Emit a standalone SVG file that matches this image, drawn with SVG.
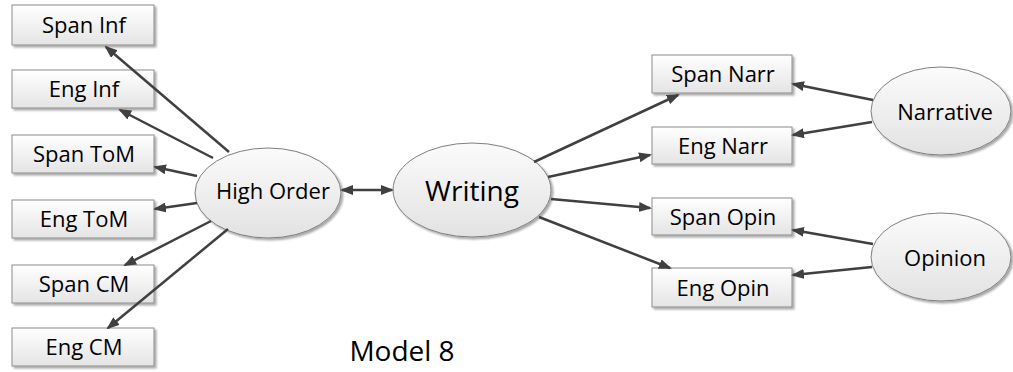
<svg xmlns="http://www.w3.org/2000/svg" width="1013" height="372" viewBox="0 0 1013 372">
  <style>
    .box { fill: url(#boxFill); stroke: #8c8c8c; stroke-width: 1; filter: url(#shadow); }
    .oval { fill: url(#ovalFill); stroke: #7f7f7f; stroke-width: 1; filter: url(#shadow); }
    .lbl { font-family: "Open Sans", Lato, "Liberation Sans", sans-serif; font-size: 22px; fill: #000; text-anchor: middle; dominant-baseline: central; }
    .big { font-size: 28px; }
    .edge { stroke: #404040; stroke-width: 2.5; fill: none; marker-end: url(#arrow); }
  </style>
  <defs>
    <linearGradient id="boxFill" x1="0" y1="0" x2="0" y2="1">
      <stop offset="0" stop-color="#ffffff"/>
      <stop offset="1" stop-color="#e4e4e4"/>
    </linearGradient>
    <linearGradient id="ovalFill" x1="0" y1="0" x2="0" y2="1">
      <stop offset="0" stop-color="#fbfbfb"/>
      <stop offset="1" stop-color="#e2e2e2"/>
    </linearGradient>
    <filter id="shadow" x="-10%" y="-10%" width="130%" height="140%">
      <feGaussianBlur in="SourceAlpha" stdDeviation="1"/>
      <feOffset dx="2" dy="2" result="off"/>
      <feComponentTransfer><feFuncA type="linear" slope="0.35"/></feComponentTransfer>
      <feMerge><feMergeNode/><feMergeNode in="SourceGraphic"/></feMerge>
    </filter>
    <marker id="arrow" viewBox="0 0 13 10" refX="11" refY="5" markerWidth="13" markerHeight="10" markerUnits="userSpaceOnUse" orient="auto-start-reverse">
      <path d="M0,0 L13,5 L0,10 Z" fill="#404040"/>
    </marker>
  </defs>

  <!-- left indicator boxes -->
  <g id="span-inf"><rect class="box" x="12" y="5" width="142" height="40"/><text class="lbl" x="84" y="24">Span Inf</text></g>
  <g id="eng-inf"><rect class="box" x="12" y="70" width="142" height="38"/><text class="lbl" x="84" y="88">Eng Inf</text></g>
  <g id="span-tom"><rect class="box" x="12" y="135" width="142" height="38"/><text class="lbl" x="84" y="153">Span ToM</text></g>
  <g id="eng-tom"><rect class="box" x="12" y="200" width="142" height="38"/><text class="lbl" x="84" y="218">Eng ToM</text></g>
  <g id="span-cm"><rect class="box" x="12" y="265" width="142" height="38"/><text class="lbl" x="84" y="283">Span CM</text></g>
  <g id="eng-cm"><rect class="box" x="12" y="328" width="142" height="38"/><text class="lbl" x="84" y="346">Eng CM</text></g>

  <!-- right indicator boxes -->
  <g id="span-narr"><rect class="box" x="652" y="55" width="140" height="38"/><text class="lbl" x="723" y="73">Span Narr</text></g>
  <g id="eng-narr"><rect class="box" x="652" y="127" width="140" height="37"/><text class="lbl" x="723" y="145">Eng Narr</text></g>
  <g id="span-opin"><rect class="box" x="652" y="198" width="140" height="37"/><text class="lbl" x="723" y="216">Span Opin</text></g>
  <g id="eng-opin"><rect class="box" x="652" y="268" width="140" height="39"/><text class="lbl" x="723" y="287">Eng Opin</text></g>

  <!-- latent factors -->
  <g id="high-order"><ellipse class="oval" cx="268" cy="193" rx="73" ry="45"/><text class="lbl" x="273" y="190">High Order</text></g>
  <g id="writing"><ellipse class="oval" cx="472" cy="190" rx="79" ry="47"/><text class="lbl big" x="472" y="190">Writing</text></g>
  <g id="narrative"><ellipse class="oval" cx="941" cy="111" rx="70" ry="44"/><text class="lbl" x="945" y="111">Narrative</text></g>
  <g id="opinion"><ellipse class="oval" cx="941" cy="257" rx="70" ry="44"/><text class="lbl" x="945" y="257">Opinion</text></g>

  <!-- connectors -->
  <g id="connectors">
    <line class="edge" x1="229" y1="152" x2="106" y2="47"/>
    <line class="edge" x1="213" y1="158" x2="120" y2="110"/>
    <line class="edge" x1="197" y1="176" x2="155" y2="167"/>
    <line class="edge" x1="197" y1="203" x2="155" y2="209"/>
    <line class="edge" x1="211" y1="221" x2="125" y2="265"/>
    <line class="edge" x1="228" y1="229" x2="108" y2="328"/>
    <line class="edge" x1="342" y1="190" x2="392" y2="190" marker-start="url(#arrow)"/>
    <line class="edge" x1="534" y1="162" x2="678" y2="95"/>
    <line class="edge" x1="548" y1="177" x2="650" y2="155"/>
    <line class="edge" x1="551" y1="199" x2="650" y2="208"/>
    <line class="edge" x1="539" y1="217" x2="670" y2="268"/>
    <line class="edge" x1="873" y1="100" x2="793" y2="84"/>
    <line class="edge" x1="872" y1="122" x2="793" y2="135"/>
    <line class="edge" x1="873" y1="244" x2="793" y2="230"/>
    <line class="edge" x1="872" y1="267" x2="793" y2="275"/>
  </g>

  <text class="lbl big" x="402" y="350">Model 8</text>
</svg>
